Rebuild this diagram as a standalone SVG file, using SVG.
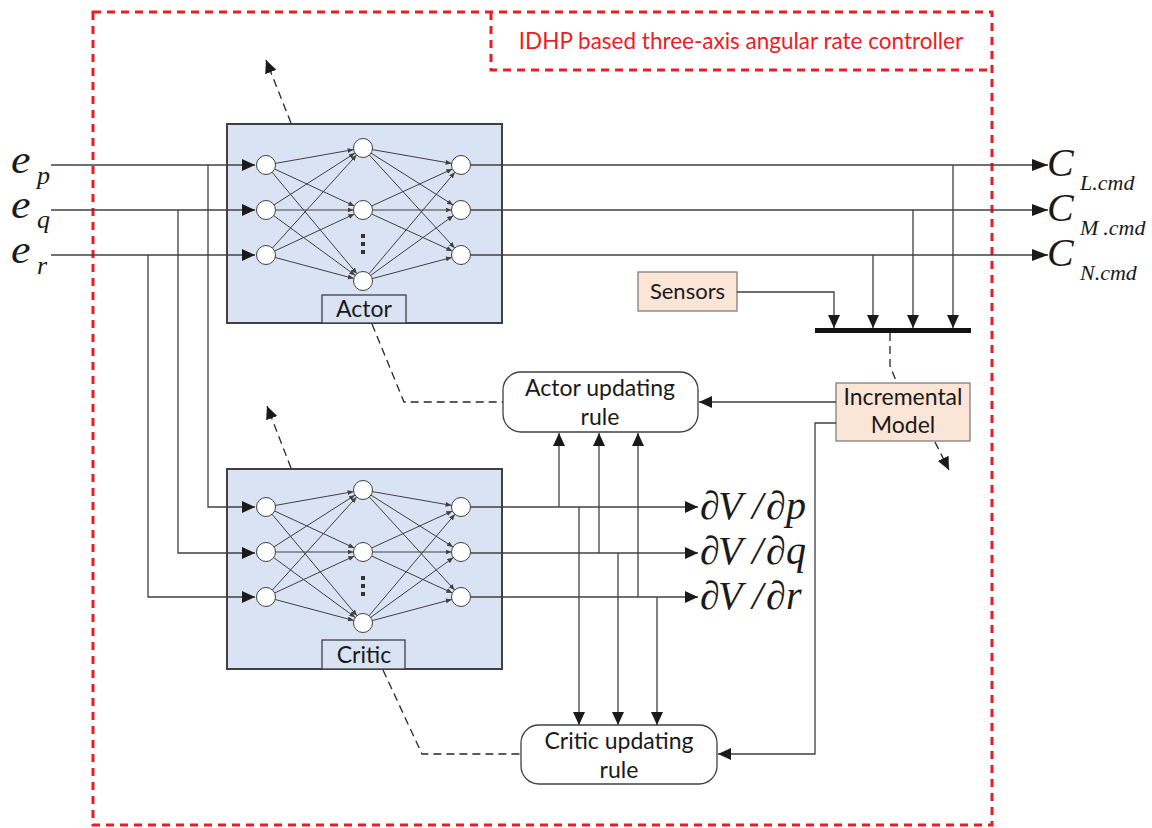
<svg xmlns="http://www.w3.org/2000/svg" xmlns:xlink="http://www.w3.org/1999/xlink" width="1152" height="828" viewBox="0 0 1152 828">
<style>
.red{fill:none;stroke:#ED1C24;stroke-width:3;stroke-dasharray:8 6}
.ln{fill:none;stroke:#404040;stroke-width:1.3}
.dash{fill:none;stroke:#262626;stroke-width:1.3;stroke-dasharray:8 5}
.nl{fill:none;stroke:#404040;stroke-width:1}
.node{fill:#fff;stroke:#404040;stroke-width:1}
.nnbox{fill:#DAE3F3;stroke:#404040;stroke-width:2}
.lbox{fill:#DAE3F3;stroke:#404040;stroke-width:1.3}
.peach{fill:#FBE5D6;stroke:#7F7F7F;stroke-width:1.3}
.rule{fill:#fff;stroke:#404040;stroke-width:1.3}
.sans{font-family:Lato,"Open Sans","Noto Sans",sans-serif;font-size:23px;fill:#1a1a1a;text-anchor:middle}
.math{font-family:"Liberation Serif","Times New Roman",serif;font-style:italic;fill:#1a1a1a}
</style>
<defs>
<marker id="arr" markerUnits="userSpaceOnUse" markerWidth="14" markerHeight="13" refX="13" refY="6" orient="auto"><path d="M0,0 L13,6 L0,12 z" fill="#1a1a1a"/></marker>
<marker id="arrL" markerUnits="userSpaceOnUse" markerWidth="17" markerHeight="13" refX="16" refY="6" orient="auto"><path d="M0,0 L16,6 L0,12 z" fill="#1a1a1a"/></marker>
<marker id="sm" markerUnits="userSpaceOnUse" markerWidth="7" markerHeight="6" refX="6" refY="2.5" orient="auto"><path d="M0,0 L6,2.5 L0,5 z" fill="#404040"/></marker>
<g id="net">
<g class="nl" marker-end="url(#sm)">
<line x1="275.4" y1="163.4" x2="353.6" y2="149.6"/>
<line x1="274.6" y1="169.0" x2="354.4" y2="206.0"/>
<line x1="272.1" y1="172.3" x2="356.9" y2="273.7"/>
<line x1="274.0" y1="204.9" x2="355.0" y2="153.1"/>
<line x1="275.5" y1="210" x2="353.5" y2="210"/>
<line x1="273.7" y1="215.6" x2="355.3" y2="275.4"/>
<line x1="272.4" y1="248.0" x2="356.6" y2="155.0"/>
<line x1="274.6" y1="251.0" x2="354.4" y2="214.0"/>
<line x1="275.2" y1="257.5" x2="353.8" y2="278.5"/>
<line x1="372.4" y1="149.6" x2="451.6" y2="163.4"/>
<line x1="371.0" y1="153.1" x2="453.0" y2="204.9"/>
<line x1="369.4" y1="155.0" x2="454.6" y2="248.0"/>
<line x1="371.6" y1="206.0" x2="452.4" y2="169.0"/>
<line x1="372.5" y1="210" x2="451.5" y2="210"/>
<line x1="371.6" y1="214.0" x2="452.4" y2="251.0"/>
<line x1="369.1" y1="273.7" x2="454.9" y2="172.3"/>
<line x1="370.7" y1="275.4" x2="453.3" y2="215.6"/>
<line x1="372.2" y1="278.6" x2="451.8" y2="257.4"/>
</g>
<g class="node">
<circle cx="266" cy="165" r="9.5"/><circle cx="266" cy="210" r="9.5"/><circle cx="266" cy="255" r="9.5"/>
<circle cx="363" cy="148" r="9.5"/><circle cx="363" cy="210" r="9.5"/><circle cx="363" cy="281" r="9.5"/>
<circle cx="461" cy="165" r="9.5"/><circle cx="461" cy="210" r="9.5"/><circle cx="461" cy="255" r="9.5"/>
</g>
<g fill="#333"><rect x="361" y="234" width="4" height="4"/><rect x="361" y="242" width="4" height="4"/><rect x="361" y="250" width="4" height="4"/></g>
</g>
</defs>

<g id="frame">
<rect class="red" x="93" y="12" width="899" height="813"/>
<path class="red" d="M491,12 V70 H992"/>
<text x="741" y="49" style="font-family:Lato,'Open Sans',sans-serif;font-size:22.5px;fill:#ED1C24;text-anchor:middle">IDHP based three-axis angular rate controller</text>
</g>

<g id="actor">
<rect class="nnbox" x="227" y="124" width="275" height="199"/>
<use xlink:href="#net"/>
<rect class="lbox" x="322" y="295" width="84" height="28"/>
<text class="sans" x="364" y="317">Actor</text>
</g>

<g id="critic">
<rect class="nnbox" x="227" y="469" width="275" height="200"/>
<use xlink:href="#net" y="342"/>
<rect class="lbox" x="322" y="640" width="83" height="29"/>
<text class="sans" x="364" y="663">Critic</text>
</g>

<g id="sensors">
<rect class="peach" x="638" y="272" width="99" height="39"/>
<text class="sans" x="687.5" y="299" style="font-size:22px">Sensors</text>
</g>

<g id="incremental-model">
<rect class="peach" x="836" y="383" width="134" height="58"/>
<text class="sans" x="903" y="405">Incremental</text>
<text class="sans" x="903" y="433">Model</text>
</g>

<g id="actor-rule">
<rect class="rule" x="503" y="372" width="195" height="60" rx="18"/>
<text class="sans" x="600" y="396">Actor updating</text>
<text class="sans" x="600" y="425">rule</text>
</g>

<g id="critic-rule">
<rect class="rule" x="521" y="725" width="196" height="59" rx="18"/>
<text class="sans" x="619" y="749">Critic updating</text>
<text class="sans" x="619" y="778">rule</text>
</g>

<g id="bar"><rect x="815" y="328" width="156" height="5" fill="#111"/></g>

<g id="labels">
<text class="math" x="11" y="173" font-size="40" transform="translate(-1.1,0) scale(1.1,1)">e</text><text class="math" x="37" y="184" font-size="26">p</text>
<text class="math" x="11" y="218" font-size="40" transform="translate(-1.1,0) scale(1.1,1)">e</text><text class="math" x="37" y="228" font-size="26">q</text>
<text class="math" x="11" y="263" font-size="40" transform="translate(-1.1,0) scale(1.1,1)">e</text><text class="math" x="37" y="274" font-size="26">r</text>
<text class="math" x="1047" y="176" font-size="40">C</text><text class="math" x="1080" y="190" font-size="22">L.cmd</text>
<text class="math" x="1047" y="221" font-size="40">C</text><text class="math" x="1080" y="235" font-size="22">M<tspan dx="5">.cmd</tspan></text>
<text class="math" x="1047" y="266" font-size="40">C</text><text class="math" x="1080" y="280" font-size="22">N.cmd</text>
<text class="math" y="519" font-size="40"><tspan x="700">∂</tspan><tspan x="718">V</tspan><tspan x="752">/</tspan><tspan x="766">∂</tspan><tspan x="786">p</tspan></text>
<text class="math" y="564" font-size="40"><tspan x="700">∂</tspan><tspan x="718">V</tspan><tspan x="752">/</tspan><tspan x="766">∂</tspan><tspan x="786">q</tspan></text>
<text class="math" y="609" font-size="40"><tspan x="700">∂</tspan><tspan x="718">V</tspan><tspan x="752">/</tspan><tspan x="766">∂</tspan><tspan x="786">r</tspan></text>
</g>

<g id="connectors">
<g class="ln" marker-end="url(#arr)">
<path d="M51,165 H255"/>
<path d="M51,210 H255"/>
<path d="M51,255 H255"/>
<path d="M208,165 V507 H255"/>
<path d="M178,210 V553 H255"/>
<path d="M148,255 V597 H255"/>
<path d="M737,292 H834 V328"/>
<path d="M953,165 V328"/>
<path d="M913,210 V328"/>
<path d="M873,255 V328"/>
<path d="M836,402 H699"/>
<path d="M836,423 H815 V754 H718"/>
<path d="M559,507 V433"/>
<path d="M599,553 V433"/>
<path d="M638,597 V433"/>
<path d="M579,507 V725"/>
<path d="M618,553 V725"/>
<path d="M657,597 V725"/>
<path d="M470.5,507 H698"/>
<path d="M470.5,553 H698"/>
<path d="M470.5,597 H698"/>
</g>
<g class="ln" marker-end="url(#arrL)">
<path d="M470.5,165 H1048"/>
<path d="M470.5,210 H1048"/>
<path d="M470.5,255 H1048"/>
</g>
<g class="dash">
<path d="M372,324 L404,402 H503"/>
<path d="M383,670 L422,754 H521"/>
<path d="M890,333 V366 L897,383"/>
</g>
<g class="dash" marker-end="url(#arr)">
<path d="M291,123 L266,60"/>
<path d="M291,468 L267,406"/>
<path d="M935,442 L949,470"/>
</g>
</g>
</svg>
